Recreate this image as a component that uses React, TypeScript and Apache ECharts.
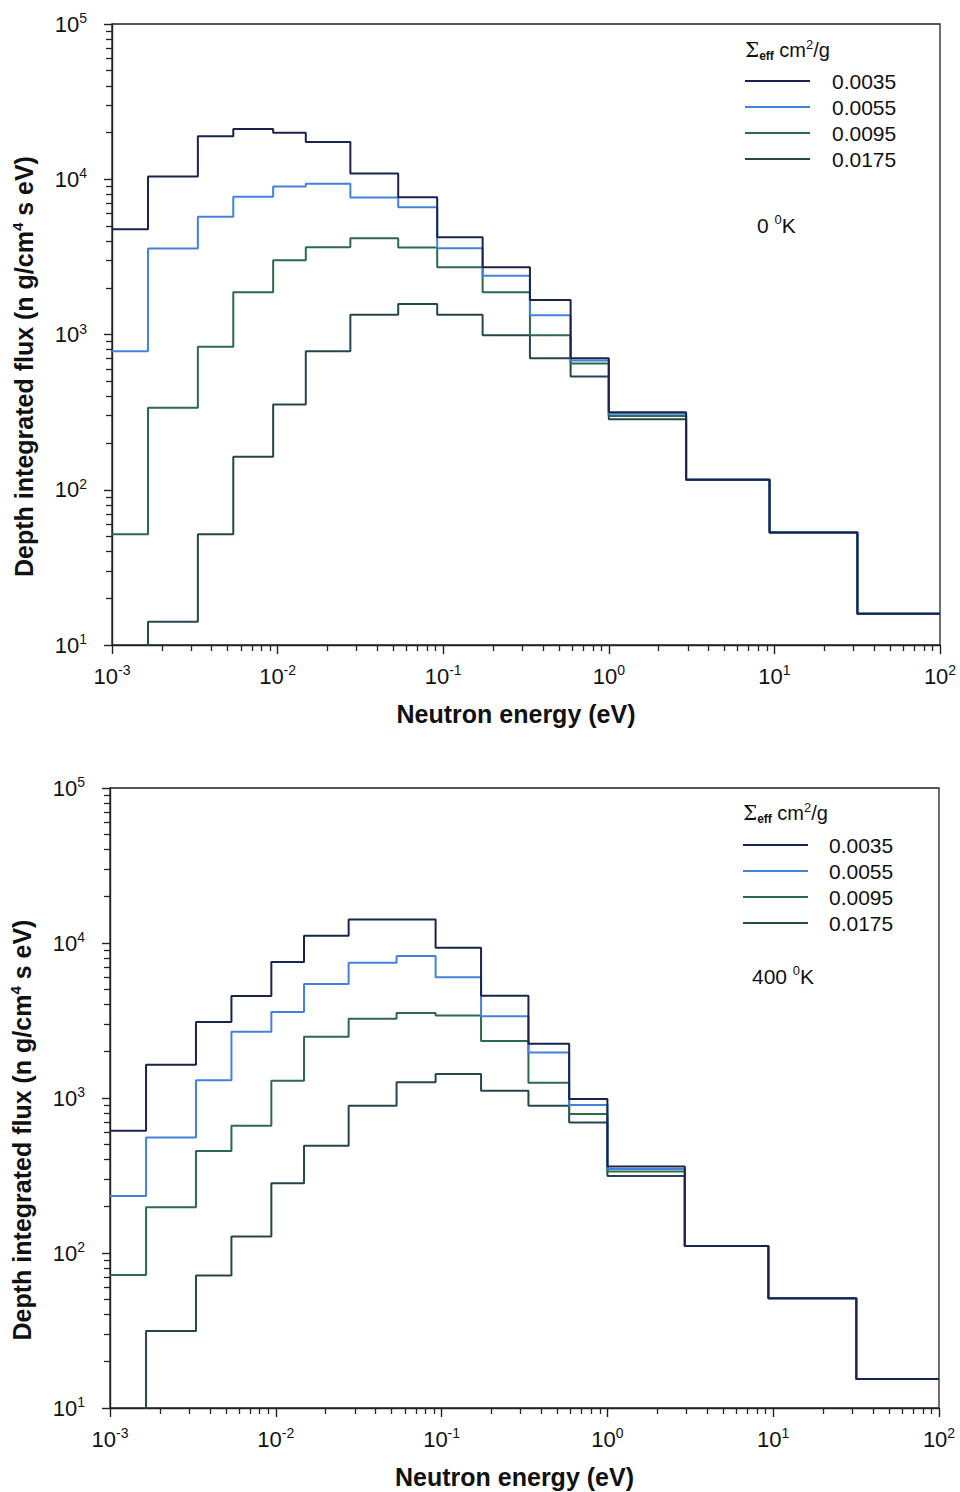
import React, { useEffect, useRef } from "react";
import * as echarts from "echarts";

// Bin edges of the neutron energy groups (eV)
const energyEdges = [0.001, 0.00165, 0.0033, 0.0054, 0.0094, 0.0148, 0.0275, 0.0535, 0.092, 0.173, 0.334, 0.588, 1.0, 2.93, 9.35, 31.7, 100];

// Sigma_eff values (cm2/g) — series names
const sigmaNames = ["0.0035", "0.0055", "0.0095", "0.0175"];

// 0 K panel: depth integrated flux per bin
const flux0K_0035 = [4760, 10400, 18900, 21100, 19900, 17400, 10900, 7670, 4230, 2710, 1670, 703, 316, 116, 53, 15.9];
const flux0K_0055 = [780, 3575, 5740, 7710, 8980, 9350, 7640, 6590, 3590, 2390, 1330, 679, 309, 116, 53, 15.9];
const flux0K_0095 = [51.6, 337, 835, 1874, 3010, 3650, 4170, 3630, 2710, 1874, 988, 650, 299, 116, 53, 15.9];
const flux0K_0175 = [5, 14.1, 51.6, 163, 354, 780, 1340, 1570, 1340, 988, 703, 536, 284, 116, 53, 15.9];

// 400 K panel
const flux400K_0035 = [615, 1640, 3090, 4545, 7540, 11140, 14200, 14200, 9330, 4570, 2240, 984, 361, 111, 51, 15.4];
const flux400K_0055 = [233, 557, 1300, 2680, 3590, 5430, 7460, 8240, 6010, 3370, 1965, 902, 348, 111, 51, 15.4];
const flux400K_0095 = [72, 197, 455, 663, 1294, 2480, 3250, 3530, 3400, 2330, 1255, 787, 335, 111, 51, 15.4];
const flux400K_0175 = [5, 31.4, 71.5, 128, 282, 492, 891, 1262, 1430, 1114, 891, 694, 314, 111, 51, 15.4];

// Tick values
const xMajorTicks = [0.001, 0.01, 0.1, 1, 10, 100];
const yMajorTicks = [10, 100, 1000, 10000, 100000];
const minorMultipliers = [2, 3, 4, 5, 6, 7, 8, 9];

const xAxisTitle = "Neutron energy (eV)";
const temperatureLabels = ["0 ", "400 "];

const colors = ["#1a2350", "#4381de", "#2b6a4a", "#25464a"];
const FONT = "Liberation Sans, Arial, Helvetica, sans-serif";

function minorOf(majors: number[]) {
  const out: number[] = [];
  for (let i = 0; i < majors.length - 1; i++) {
    for (const m of minorMultipliers) out.push(+(majors[i] * m).toPrecision(6));
  }
  return out;
}

function stepData(values: number[]) {
  return energyEdges.map((e, i) => [e, values[Math.min(i, values.length - 1)]]);
}

const tickRich = {
  b: { fontSize: 22, fontFamily: FONT, color: "#111", lineHeight: 26 },
  s: { fontSize: 14, fontFamily: FONT, color: "#111", verticalAlign: "top", lineHeight: 14 },
};

const powFormatter = (v: number) => {
  const e = Math.round(Math.log10(v));
  return `{b|10}{s|${e}}`;
};

function xMain(gridIndex: number) {
  return {
    type: "log",
    logBase: 10,
    gridIndex,
    position: "bottom",
    min: 0.001,
    max: 100,
    axisLine: { show: true, lineStyle: { color: "#222", width: 1.4 } },
    axisTick: { show: true, customValues: xMajorTicks, length: 9, lineStyle: { color: "#222", width: 1.4 } },
    axisLabel: { show: true, customValues: xMajorTicks, formatter: powFormatter, rich: tickRich, margin: 18 },
    splitLine: { show: false },
    minorTick: { show: false },
    name: xAxisTitle,
    nameLocation: "middle",
    nameGap: 56,
    nameTextStyle: { fontSize: 25, fontWeight: "bold", fontFamily: FONT, color: "#111", padding: [0, 20, 0, 0] },
  };
}

function xMinor(gridIndex: number) {
  return {
    type: "log",
    logBase: 10,
    gridIndex,
    position: "bottom",
    offset: 0,
    min: 0.001,
    max: 100,
    axisLine: { show: false },
    axisTick: { show: true, customValues: minorOf(xMajorTicks), length: 6, lineStyle: { color: "#222", width: 1.3 } },
    axisLabel: { show: false },
    splitLine: { show: false },
  };
}

function yMain(gridIndex: number, gap: number) {
  return {
    type: "log",
    logBase: 10,
    gridIndex,
    position: "left",
    min: 10,
    max: 100000,
    axisLine: { show: true, lineStyle: { color: "#222", width: 1.4 } },
    axisTick: { show: true, customValues: yMajorTicks, length: 8, lineStyle: { color: "#222", width: 1.4 } },
    axisLabel: { show: true, customValues: yMajorTicks, formatter: powFormatter, rich: tickRich, margin: 25 },
    splitLine: { show: false },
    name: "{t|Depth integrated flux (n g/cm}{s|4}{t| s eV)}",
    nameLocation: "middle",
    nameGap: gap,
    nameRotate: 90,
    nameTextStyle: {
      padding: [0, 64, 0, 0],
      rich: {
        t: { fontSize: 25, fontWeight: "bold", fontFamily: FONT, color: "#111", lineHeight: 28 },
        s: { fontSize: 15, fontWeight: "bold", fontFamily: FONT, color: "#111", verticalAlign: "top", lineHeight: 15 },
      },
    },
  };
}

function yMinor(gridIndex: number) {
  return {
    type: "log",
    logBase: 10,
    gridIndex,
    position: "left",
    offset: 0,
    min: 10,
    max: 100000,
    axisLine: { show: false },
    axisTick: { show: true, customValues: minorOf(yMajorTicks), length: 6, lineStyle: { color: "#222", width: 1.3 } },
    axisLabel: { show: false },
    splitLine: { show: false },
  };
}

function legendGraphics(x0: number, yHeader: number, yRows: number[], textX: number, tempY: number, tempX: number, temp: string) {
  const els: any[] = [];
  els.push({
    type: "text",
    style: {
      x: x0,
      y: yHeader,
      text: "{g|\u03a3}{sub|eff}{n| cm}{sup|2}{n|/g}",
      verticalAlign: "middle",
      rich: {
        g: { fontSize: 20, fontFamily: "DejaVu Serif, serif", fill: "#111", lineHeight: 24 },
        sub: { fontSize: 12, fontFamily: FONT, fontWeight: "bold", fill: "#111", verticalAlign: "bottom", lineHeight: 12 },
        n: { fontSize: 20, fontFamily: FONT, fill: "#111", lineHeight: 24 },
        sup: { fontSize: 13, fontFamily: FONT, fill: "#111", verticalAlign: "top", lineHeight: 13 },
      },
    },
  });
  sigmaNames.forEach((name, i) => {
    els.push({
      type: "line",
      shape: { x1: x0, y1: yRows[i], x2: x0 + 65, y2: yRows[i] },
      style: { stroke: colors[i], lineWidth: 2 },
    });
    els.push({
      type: "text",
      style: { x: textX, y: yRows[i], text: name, verticalAlign: "middle", fontSize: 21, fontFamily: FONT, fill: "#111" },
    });
  });
  els.push({
    type: "text",
    style: {
      x: tempX,
      y: tempY,
      text: `{n|${temp}}{sup|0}{n|K}`,
      verticalAlign: "middle",
      rich: {
        n: { fontSize: 21, fontFamily: FONT, fill: "#111", lineHeight: 24 },
        sup: { fontSize: 13, fontFamily: FONT, fill: "#111", verticalAlign: "top", lineHeight: 13 },
      },
    },
  });
  return els;
}

export default function App() {
  const ref = useRef<HTMLDivElement>(null);
  useEffect(() => {
    if (!ref.current) return;
    const chart = echarts.init(ref.current, undefined, { renderer: "svg" });
    const topSets = [flux0K_0035, flux0K_0055, flux0K_0095, flux0K_0175];
    const botSets = [flux400K_0035, flux400K_0055, flux400K_0095, flux400K_0175];
    const series: any[] = [];
    [topSets, botSets].forEach((sets, g) => {
      sets.forEach((vals, i) => {
        series.push({
          type: "line",
          name: sigmaNames[i],
          xAxisIndex: g,
          yAxisIndex: g,
          step: "end",
          symbol: "none",
          clip: true,
          data: stepData(vals),
          lineStyle: { color: colors[i], width: 2 },
          itemStyle: { color: colors[i] },
          z: 10 - i,
        });
      });
    });
    chart.setOption({
      animation: false,
      backgroundColor: "#fff",
      grid: [
        { left: 112, top: 24, width: 828, height: 621, show: true, borderColor: "#222", borderWidth: 1.3, backgroundColor: "transparent" },
        { left: 109, top: 788, width: 830, height: 620, show: true, borderColor: "#222", borderWidth: 1.3, backgroundColor: "transparent" },
      ],
      xAxis: [xMain(0), xMain(1), xMinor(0), xMinor(1)],
      yAxis: [yMain(0, 74), yMain(1, 74), yMinor(0), yMinor(1)],
      series,
      graphic: [
        ...legendGraphics(745, 50, [81, 107, 133, 159], 832, 225, 757, temperatureLabels[0]),
        ...legendGraphics(743, 813, [845, 871, 897, 923], 829, 976, 752, temperatureLabels[1]),
      ],
    });
    return () => chart.dispose();
  }, []);
  return <div ref={ref} style={{ position: "absolute", left: 0, top: 0, width: 960, height: 1492 }} />;
}
